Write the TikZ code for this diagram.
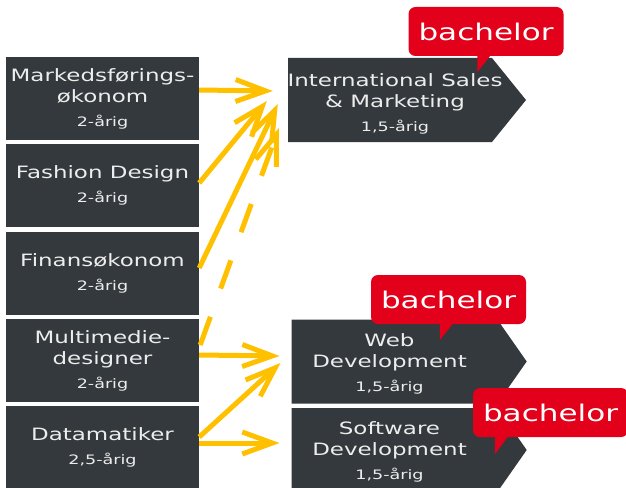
\documentclass[tikz,border=0pt]{standalone}
\usepackage{fontspec}
\setmainfont{DejaVu Sans}[FakeStretch=1.35]
\usetikzlibrary{arrows.meta,shapes.symbols}
\definecolor{mork}{HTML}{33393C}
\definecolor{lys}{HTML}{EDEDED}
\definecolor{gul}{HTML}{FFC000}
\definecolor{rod}{HTML}{E2001A}
\begin{document}
\begin{tikzpicture}[x=1pt,y=-1pt]
    \tikzstyle{tekst}=[text=lys, inner sep=0pt, align=center, font=\fontsize{17}{21}\selectfont]
    \tikzstyle{uddannelse}=[tekst, fill=mork, minimum width=193pt, minimum height=83pt]
    \tikzstyle{overbygning}=[fill=mork, shape=signal, signal to=east, inner sep=0pt, minimum height=84pt]
    \tikzstyle{bachelor}=[fill=rod, text=white, rounded corners=7pt, minimum width=155pt, minimum height=49pt, inner sep=0pt, font=\fontsize{23}{23}\selectfont]
    \tikzstyle{pil}=[draw=gul, line width=5pt, -{Straight Barb[length=30pt,width=22pt]}]
    \tikzstyle{stiplet}=[pil, dash pattern=on 30pt off 30pt]

    \useasboundingbox (0,0) rectangle (626,487);

    % grunduddannelser
    \node[uddannelse] (mark) at (102.5,98.5) {Markedsførings-\\økonom\\[3pt]{\fontsize{13}{13}\selectfont 2-årig}};
    \node[uddannelse] (fashion) at (102.5,185) {Fashion Design\\[3pt]{\fontsize{13}{13}\selectfont 2-årig}};
    \node[uddannelse] (finans) at (102.5,273) {Finansøkonom\\[3pt]{\fontsize{13}{13}\selectfont 2-årig}};
    \node[uddannelse] (multi) at (102.5,360.5) {Multimedie-\\designer\\[3pt]{\fontsize{13}{13}\selectfont 2-årig}};
    \node[uddannelse] (data) at (102.5,447) {Datamatiker\\[3pt]{\fontsize{13}{13}\selectfont 2,5-årig}};

    % overbygninger
    \node[overbygning, minimum width=238pt, signal pointer angle=102,
      label={[tekst, xshift=5pt, yshift=-4pt]center:International Sales\\\& Marketing\\[3pt]{\fontsize{13}{13}\selectfont 1,5-årig}}] (ism) at (390,100) {};
    \node[overbygning, minimum width=235pt, signal pointer angle=110,
      label={[tekst, xshift=-5pt, yshift=-2pt]center:Web\\Development\\[3pt]{\fontsize{13}{13}\selectfont 1,5-årig}}] (web) at (394.5,361.5) {};
    \node[overbygning, minimum width=235pt, signal pointer angle=110,
      label={[tekst, xshift=-5pt, yshift=-2pt]center:Software\\Development\\[3pt]{\fontsize{13}{13}\selectfont 1,5-årig}}] (soft) at (394.5,450) {};

    \node[bachelor] (bism) at (486,31.5) {bachelor};
    \node[bachelor] (bweb) at (448.5,299.5) {bachelor};
    \node[bachelor] (bsoft) at (550.5,412.5) {bachelor};
    \fill[rod] ([shift={(69,-3)}]bism.south west) -- ++(0,19) -- ([shift={(84,-3)}]bism.south west) -- cycle;
    \fill[rod] ([shift={(69,-3)}]bweb.south west) -- ++(0,19) -- ([shift={(84,-3)}]bweb.south west) -- cycle;
    \fill[rod] ([shift={(22,-3)}]bsoft.south west) -- ++(0,20) -- ([shift={(37,-3)}]bsoft.south west) -- cycle;

    % pile
    \draw[pil] ([shift={(0,-8.5)}]mark.east) -- ([shift={(-15,-9)}]ism.west);
    \draw[pil] ([shift={(0,-2)}]fashion.east) -- ([shift={(-21,1)}]ism.west);
    \draw[pil] ([shift={(0,-5)}]finans.east) -- ([shift={(-10,4)}]ism.west);
    \draw[stiplet] ([shift={(1,-15.5)}]multi.east) -- ([shift={(-9,28)}]ism.west);
    \draw[pil] ([shift={(0,-5.5)}]multi.east) -- ([shift={(-12,-5.5)}]web.west);
    \draw[pil] ([shift={(0,-10)}]data.east) -- ([shift={(-11,1.5)}]web.west);
    \draw[pil] ([shift={(0,-4)}]data.east) -- ([shift={(-12,-7)}]soft.west);
\end{tikzpicture}
\end{document}
